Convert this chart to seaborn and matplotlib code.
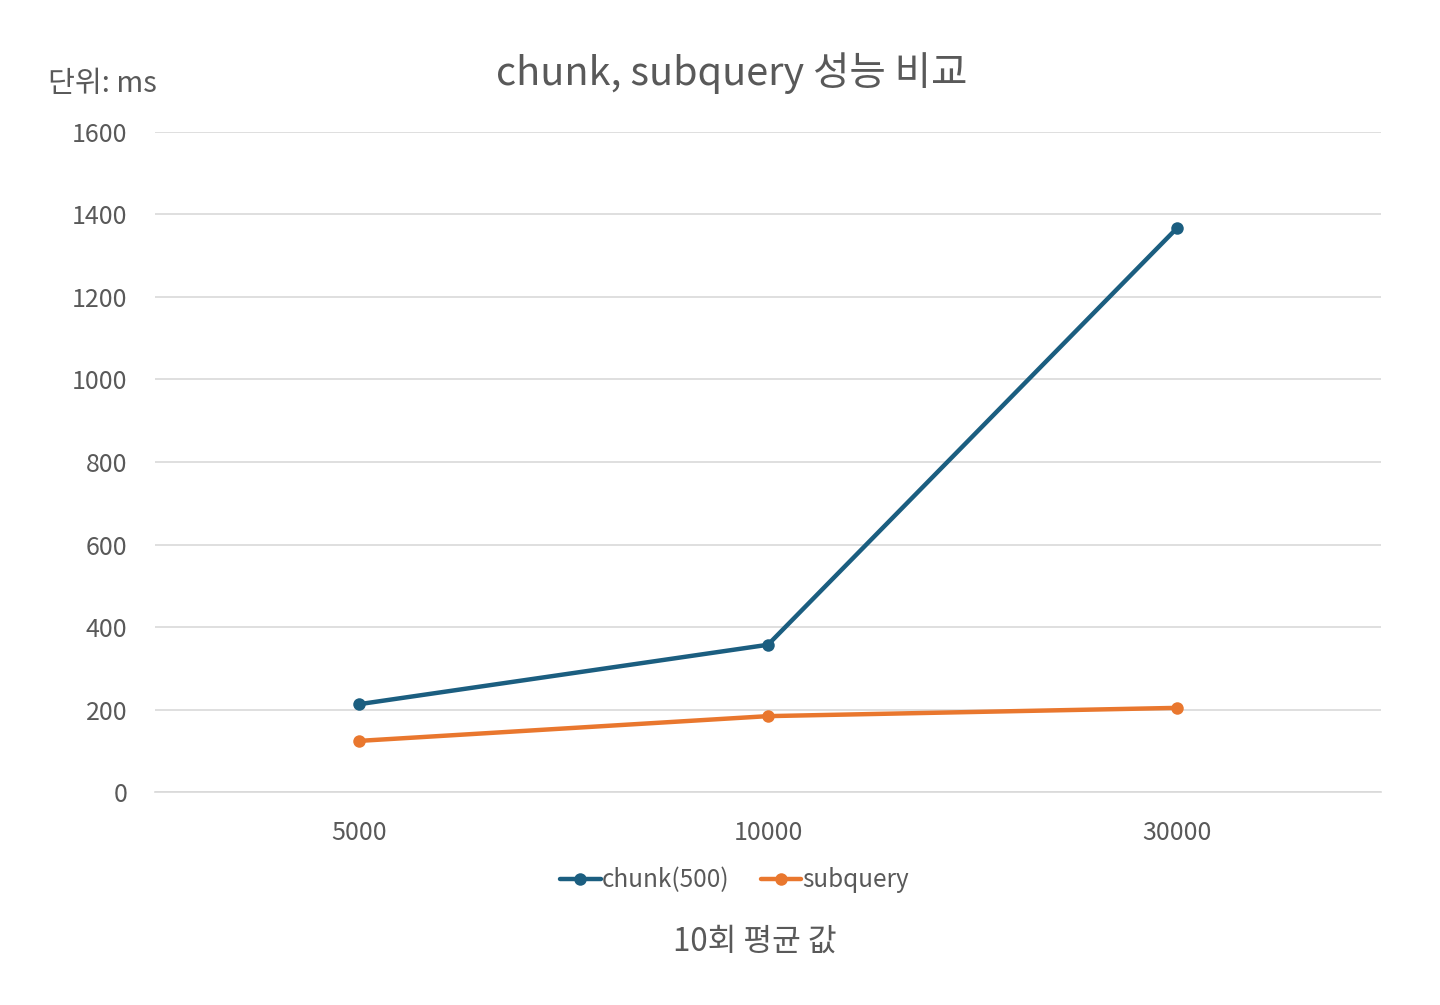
import matplotlib
matplotlib.use("Agg")
import matplotlib.pyplot as plt
import seaborn as sns
import pandas as pd

record_counts = ["5000", "10000", "30000"]
chunk_ms = [213, 357, 1366]
subquery_ms = [124, 184, 204]
series_names = ["chunk(500)", "subquery"]
y_ticks = [0, 200, 400, 600, 800, 1000, 1200, 1400, 1600]

df = pd.DataFrame({
    "records": record_counts * 2,
    "ms": chunk_ms + subquery_ms,
    "method": [series_names[0]] * 3 + [series_names[1]] * 3,
})

sns.set_theme(style="white")
plt.rcParams["font.family"] = ["Noto Sans CJK KR", "DejaVu Sans"]
text_color = "#595959"

fig = plt.figure(figsize=(14.4, 10.05), dpi=100)
ax = fig.add_axes([0.1076, 0.2119, 0.8514, 0.6568])

palette = {series_names[0]: "#1B5E80", series_names[1]: "#E9772E"}
sns.lineplot(data=df, x="records", y="ms", hue="method", palette=palette,
             marker="o", markersize=9, markeredgewidth=0, linewidth=3.2,
             sort=False, ax=ax, legend=True)

ax.set_xlim(-0.5, 2.5)
ax.set_ylim(0, 1600)
ax.set_yticks(y_ticks)
ax.grid(axis="y", color="#D9D9D9", linewidth=1.2)
ax.set_axisbelow(True)
for side in ["left", "right", "top"]:
    ax.spines[side].set_visible(False)
ax.spines["bottom"].set_color("#D9D9D9")
ax.spines["bottom"].set_linewidth(1.2)
ax.tick_params(axis="both", length=0, labelsize=18, colors=text_color)
ax.tick_params(axis="y", pad=20)
ax.tick_params(axis="x", pad=20)
ax.set_xlabel("")
ax.set_ylabel("")

fig.text(0.508, 0.927, "chunk, subquery 성능 비교", ha="center", va="center",
         fontsize=28.5, color=text_color)
fig.text(0.033, 0.916, "단위: ms", ha="left", va="center", fontsize=21, color=text_color)
fig.text(0.524, 0.063, "10회 평균 값", ha="center", va="center", fontsize=22.5, color=text_color)

handles, labels = ax.get_legend_handles_labels()
ax.legend(handles, labels, loc="center", bbox_to_anchor=(0.5102, 0.124),
          bbox_transform=fig.transFigure, ncol=2, frameon=False,
          fontsize=17.5, handlelength=1.65, handletextpad=0.05, columnspacing=1.3,
          labelcolor=text_color)

fig.savefig("out.png", dpi=100)
